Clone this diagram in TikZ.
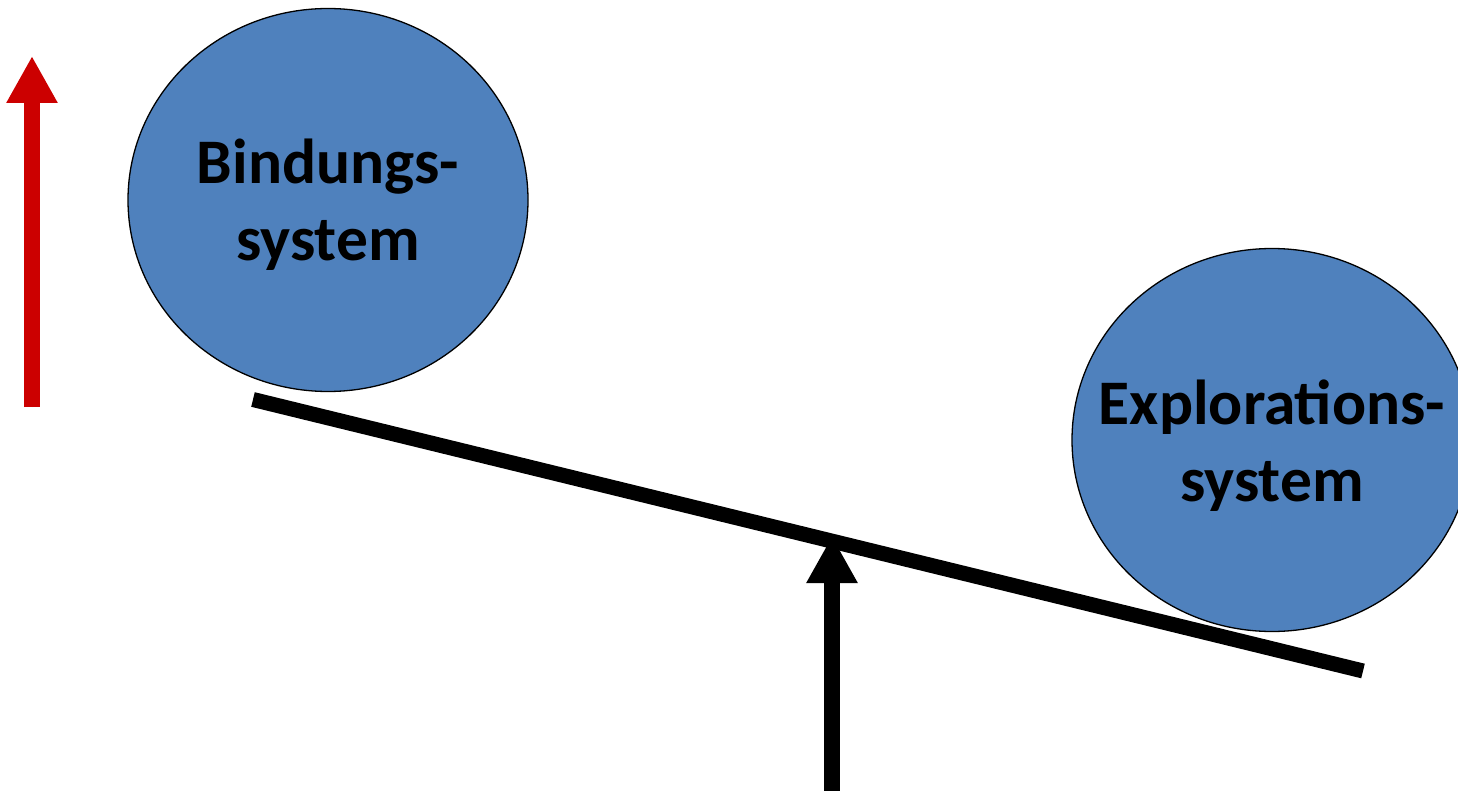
\documentclass[tikz,border=0pt]{standalone}
\usepackage{fontspec}
\setmainfont{Carlito}
\usetikzlibrary{arrows.meta,shapes.geometric}
\definecolor{ballblue}{HTML}{4F81BD}
\definecolor{arrowred}{HTML}{CC0000}
\tikzset{
  ball/.style={ellipse, draw=black, line width=1.3pt, fill=ballblue,
    minimum width=400pt, minimum height=383pt, inner sep=0pt},
  balltext/.style={align=center, inner sep=0pt,
    font=\bfseries\fontsize{63.5}{77}\selectfont},
  lever/.style={line width=15pt, draw=black},
  bigarrow/.style={line width=16pt, -{Triangle[length=47pt,width=48pt]}},
}
\begin{document}
\begin{tikzpicture}[x=1pt,y=-1pt]
  \useasboundingbox (0,0) rectangle (1458,791);
  \clip (0,0) rectangle (1458,791);
  % pivot arrow under the beam (its tip hides inside the beam)
  \coordinate (pivotB) at (832,800);
  \coordinate (pivotT) at (832,536);
  \draw[bigarrow, draw=black, fill=black] (pivotB) -- (pivotT);
  % the two weights
  \node[ball] (bind) at (328,200) {};
  \node[balltext] (bindT) at ([yshift=-5pt]bind.center) {Bindungs-\\system};
  \node[ball] (expl) at (1272,440) {};
  \node[balltext] (explT) at ([yshift=-6pt]expl.center) {Explorations-\\system};
  % the tilted beam
  \coordinate (beamL) at (253,399.5);
  \coordinate (beamR) at (1363,671);
  \draw[lever] (beamL) -- (beamR);
  % red arrow on the left
  \coordinate (redB) at (32,407);
  \coordinate (redT) at (32,56);
  \draw[bigarrow, draw=arrowred, fill=arrowred] (redB) -- (redT);
\end{tikzpicture}
\end{document}
